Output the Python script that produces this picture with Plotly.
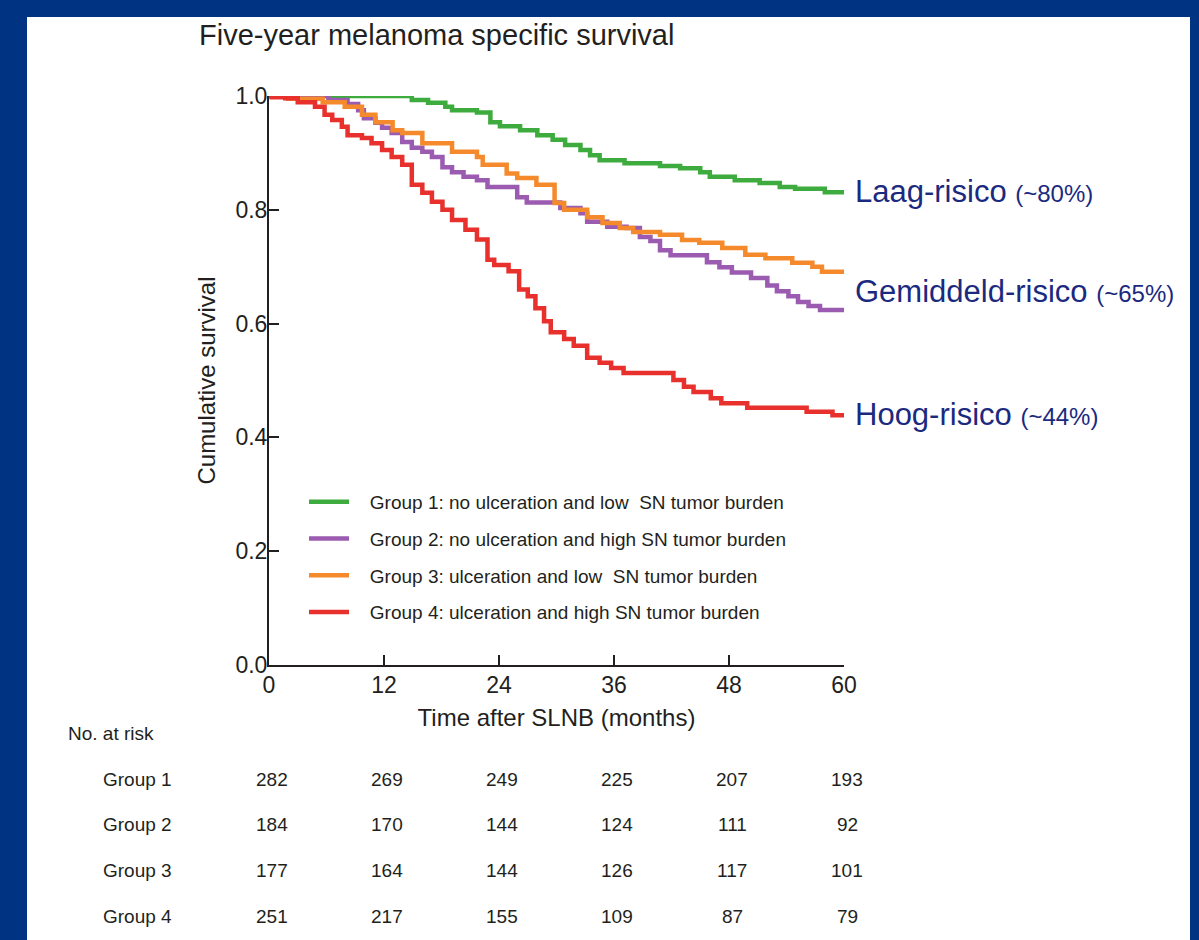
import plotly.graph_objects as go

# ---------------- data ----------------
group_names = [
    "Group 1: no ulceration and low  SN tumor burden",
    "Group 2: no ulceration and high SN tumor burden",
    "Group 3: ulceration and low  SN tumor burden",
    "Group 4: ulceration and high SN tumor burden",
]
group_colors = ["#3dab3d", "#9b5bb0", "#f58a2c", "#e8302c"]

g1_t = [0, 14.9, 16.6, 18.4, 19.1, 21.7, 23.1, 24.1, 26.2, 28.0, 29.6, 30.9, 32.5, 33.5, 34.5,
        37.1, 40.8, 42.9, 45.0, 46.0, 48.6, 51.2, 53.3, 54.9, 58.0, 60]
g1_s = [1.0, 0.993, 0.988, 0.981, 0.975, 0.971, 0.954, 0.947, 0.940, 0.931, 0.923, 0.914, 0.905, 0.896, 0.887,
        0.882, 0.877, 0.873, 0.866, 0.858, 0.852, 0.847, 0.840, 0.837, 0.831, 0.831]

g2_t = [0, 6.2, 8.2, 9.3, 9.9, 11.1, 11.8, 12.8, 13.9, 14.9, 16.0, 17.0, 18.1, 19.1, 20.3, 21.7, 22.8,
        25.9, 26.9, 30.4, 32.5, 33.2, 35.3, 37.3, 38.7, 39.8, 40.8, 41.9, 45.7, 47.0, 48.3, 50.3, 52.0,
        53.0, 54.2, 55.2, 56.3, 57.5, 60]
g2_s = [1.0, 0.993, 0.986, 0.975, 0.961, 0.953, 0.944, 0.935, 0.919, 0.909, 0.902, 0.893, 0.875, 0.866,
        0.858, 0.852, 0.840, 0.822, 0.813, 0.803, 0.794, 0.779, 0.770, 0.768, 0.752, 0.745, 0.729, 0.720,
        0.708, 0.699, 0.690, 0.680, 0.667, 0.657, 0.648, 0.638, 0.631, 0.624, 0.624]

g3_t = [0, 2.0, 5.6, 7.9, 9.7, 11.1, 12.9, 13.9, 16.0, 19.1, 21.7, 22.3, 24.8, 25.9, 27.9, 29.8, 30.8,
        33.2, 34.8, 36.6, 38.0, 40.8, 43.1, 44.9, 47.3, 49.7, 51.8, 54.6, 56.7, 57.7, 60]
g3_s = [1.0, 0.995, 0.989, 0.981, 0.967, 0.954, 0.940, 0.935, 0.917, 0.902, 0.893, 0.879, 0.864, 0.856,
        0.844, 0.812, 0.800, 0.787, 0.777, 0.768, 0.761, 0.756, 0.747, 0.742, 0.733, 0.721, 0.715, 0.707,
        0.700, 0.691, 0.691]

g4_t = [0, 0.3, 1.7, 3.0, 4.8, 5.8, 6.6, 7.6, 8.2, 9.7, 10.7, 11.8, 12.8, 13.9, 14.9, 16.0, 17.0, 18.1,
        19.1, 20.5, 21.7, 22.8, 23.5, 25.0, 26.1, 27.0, 27.8, 28.7, 29.4, 30.8, 31.8, 33.2, 34.5, 35.7,
        37.0, 42.2, 43.3, 44.3, 46.1, 47.2, 49.9, 56.1, 58.8, 60]
g4_s = [1.0, 0.998, 0.996, 0.989, 0.981, 0.967, 0.958, 0.946, 0.931, 0.926, 0.917, 0.905, 0.893, 0.879,
        0.844, 0.830, 0.814, 0.800, 0.782, 0.765, 0.748, 0.712, 0.703, 0.692, 0.660, 0.648, 0.627, 0.604,
        0.585, 0.573, 0.561, 0.540, 0.531, 0.522, 0.513, 0.501, 0.489, 0.480, 0.469, 0.460, 0.452, 0.445,
        0.439, 0.439]

x_ticks = [0, 12, 24, 36, 48, 60]
y_ticks = [0.0, 0.2, 0.4, 0.6, 0.8, 1.0]
y_tick_labels = ["0.0", "0.2", "0.4", "0.6", "0.8", "1.0"]

risk_labels = ["Laag-risico", "Gemiddeld-risico", "Hoog-risico"]
risk_pcts = ["(~80%)", "(~65%)", "(~44%)"]
risk_label_y = [0.833, 0.656, 0.441]

row_labels = ["Group 1", "Group 2", "Group 3", "Group 4"]
at_risk = [
    [282, 269, 249, 225, 207, 193],
    [184, 170, 144, 124, 111, 92],
    [177, 164, 144, 126, 117, 101],
    [251, 217, 155, 109, 87, 79],
]

# ---------------- figure ----------------
W, H = 1199, 940
OFF = 8  # page body margin: the figure is drawn 8px from the window's corner
FONT = "Arial, 'Liberation Sans', Helvetica, sans-serif"
INK = "#231f20"
NAVY = "#1b2a7e"
BORDER = "#003483"


def px_x(p):
    return (p - OFF) / W


def px_y(p):
    return 1 - (p - OFF) / H


fig = go.Figure()
series = [(g1_t, g1_s), (g2_t, g2_s), (g3_t, g3_s), (g4_t, g4_s)]
for i, ((t, s), name, col) in enumerate(zip(series, group_names, group_colors)):
    fig.add_trace(go.Scatter(
        x=t, y=s, mode="lines", name="\u00a0\u00a0\u00a0" + name,
        line=dict(shape="hv", color=col, width=4.5),
        legendgroup=f"g{i}", hoverinfo="x+y",
    ))

annotations = []
annotations.append(dict(
    text="Five-year melanoma specific survival", xref="paper", yref="paper",
    x=px_x(197), y=px_y(35), xanchor="left", yanchor="middle", showarrow=False,
    font=dict(size=29, color=INK, family=FONT),
))
for lab, pct, yv in zip(risk_labels, risk_pcts, risk_label_y):
    annotations.append(dict(
        text=f"{lab} <span style='font-size:24px'>{pct}</span>",
        xref="x", yref="y", x=60, y=yv, xanchor="left", yanchor="middle",
        xshift=9, showarrow=False, font=dict(size=31, color=NAVY, family=FONT),
    ))

annotations.append(dict(
    text="No. at risk", xref="paper", yref="paper", x=px_x(66), y=px_y(733),
    xanchor="left", yanchor="middle", showarrow=False,
    font=dict(size=19, color=INK, family=FONT),
))
row_y = [779, 824, 870, 916]
for lab, vals, ry in zip(row_labels, at_risk, row_y):
    annotations.append(dict(
        text=lab, xref="paper", yref="paper", x=px_x(101), y=px_y(ry),
        xanchor="left", yanchor="middle", showarrow=False,
        font=dict(size=19, color=INK, family=FONT),
    ))
    for xv, v in zip(x_ticks, vals):
        annotations.append(dict(
            text=str(v), xref="x", yref="paper", x=xv, y=px_y(ry),
            xanchor="center", yanchor="middle", showarrow=False, xshift=3,
            font=dict(size=19, color=INK, family=FONT),
        ))

fig.update_layout(
    width=W, height=H, autosize=False,
    margin=dict(l=0, r=0, t=0, b=0, pad=0, autoexpand=False),
    paper_bgcolor=BORDER, plot_bgcolor="white",
    font=dict(family=FONT, color=INK),
    shapes=[dict(type="rect", xref="paper", yref="paper",
                 x0=px_x(27), x1=px_x(1190), y0=0, y1=px_y(17),
                 fillcolor="white", line=dict(width=0), layer="below")],
    annotations=annotations,
    showlegend=True,
    legend=dict(
        x=px_x(304), y=px_y(483), xanchor="left", yanchor="top",
        bgcolor="rgba(0,0,0,0)", borderwidth=0, itemwidth=40,
        tracegroupgap=9, font=dict(size=19, color=INK, family=FONT),
        traceorder="grouped",
    ),
    xaxis=dict(
        domain=[px_x(269), px_x(844)], range=[0, 60], automargin=False,
        tickvals=x_ticks, ticks="inside", ticklen=10, tickwidth=2, tickcolor=INK,
        showline=True, linecolor=INK, linewidth=2, showgrid=False, zeroline=False,
        tickfont=dict(size=23, color=INK), ticklabelstandoff=-2,
        title=dict(text="Time after SLNB (months)", font=dict(size=24, color=INK), standoff=13),
    ),
    yaxis=dict(
        domain=[px_y(665), px_y(96)], range=[0, 1.0], automargin=False,
        tickvals=y_ticks, ticktext=y_tick_labels, ticks="inside", ticklen=10, tickwidth=2,
        tickcolor=INK, showline=True, linecolor=INK, linewidth=2, showgrid=False,
        zeroline=False, tickfont=dict(size=23, color=INK), ticklabelstandoff=-5,
        title=dict(text="Cumulative survival", font=dict(size=24, color=INK), standoff=13),
    ),
)

fig.write_html("out.html", post_script=f"document.body.style.background='{BORDER}';")
